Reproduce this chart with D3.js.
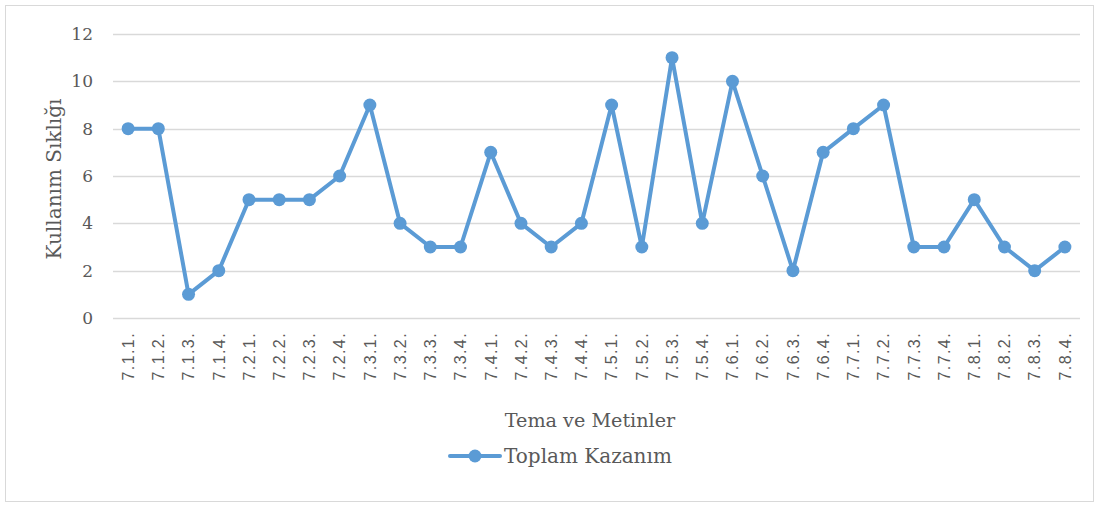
<!DOCTYPE html>
<html><head><meta charset="utf-8">
<script src="https://cdn.jsdelivr.net/npm/d3@7"></script>
<style>
body{margin:0;background:#fff;}
svg{display:block;}
</style></head>
<body><svg id="c" width="1099" height="506"></svg>
<script>
const categories = ["7.1.1.","7.1.2.","7.1.3.","7.1.4.","7.2.1.","7.2.2.","7.2.3.","7.2.4.","7.3.1.","7.3.2.","7.3.3.","7.3.4.","7.4.1.","7.4.2.","7.4.3.","7.4.4.","7.5.1.","7.5.2.","7.5.3.","7.5.4.","7.6.1.","7.6.2.","7.6.3.","7.6.4.","7.7.1.","7.7.2.","7.7.3.","7.7.4.","7.8.1.","7.8.2.","7.8.3.","7.8.4."];
const values = [8,8,1,2,5,5,5,6,9,4,3,3,7,4,3,4,9,3,11,4,10,6,2,7,8,9,3,3,5,3,2,3];
const yTicks = [0,2,4,6,8,10,12];
const seriesName = "Toplam Kazanım";
const xTitle = "Tema ve Metinler";
const yTitle = "Kullanım Sıklığı";

(function(){
const svg = d3.select("#c");
const serif = "'DejaVu Serif', serif";
const sans = "'Liberation Sans', sans-serif";
const color = "#5B9BD5";
const textColor = "#595959";

svg.append("rect").attr("x",5.5).attr("y",5.5).attr("width",1088).attr("height",496)
  .attr("fill","#fff").attr("stroke","#D9D9D9").attr("stroke-width",1);

const pl = 113, pr = 1080, pt = 34, pb = 318;
const x = d3.scaleBand().domain(categories).range([pl,pr]);
const y = d3.scaleLinear().domain([0,12]).range([pb,pt]);

svg.append("g").selectAll("line").data(yTicks).join("line")
  .attr("x1",pl).attr("x2",pr)
  .attr("y1",d=>Math.round(y(d))+0.5).attr("y2",d=>Math.round(y(d))+0.5)
  .attr("stroke","#D9D9D9").attr("stroke-width",1.5);

const yAxis = d3.axisLeft(y).tickValues(yTicks).tickSize(0).tickPadding(0);
const ya = svg.append("g").attr("transform",`translate(93,0)`).call(yAxis);
ya.select(".domain").remove();
ya.selectAll("text").attr("font-family",serif).attr("font-size",17).attr("fill",textColor);

const xAxis = d3.axisBottom(x).tickSize(0).tickPadding(0);
const xa = svg.append("g").attr("transform",`translate(0,${pb})`).call(xAxis);
xa.select(".domain").remove();
xa.selectAll("text")
  .attr("font-family",sans).attr("font-size",16).attr("fill",textColor)
  .attr("letter-spacing","1.4px")
  .attr("transform","rotate(-90)")
  .attr("text-anchor","end")
  .attr("x",-14).attr("y",0).attr("dy","0.36em");

const line = d3.line().x((d,i)=>x(categories[i])+x.bandwidth()/2).y(d=>y(d));
svg.append("path").datum(values).attr("d",line)
  .attr("fill","none").attr("stroke",color).attr("stroke-width",4).attr("stroke-linejoin","round");
svg.append("g").selectAll("circle").data(values).join("circle")
  .attr("cx",(d,i)=>x(categories[i])+x.bandwidth()/2).attr("cy",d=>y(d))
  .attr("r",6.5).attr("fill",color);

svg.append("text").attr("x",590).attr("y",427).attr("text-anchor","middle")
  .attr("font-family",serif).attr("font-size",19.2).attr("fill",textColor).text(xTitle);
svg.append("text").attr("transform",`translate(61,179) rotate(-90)`).attr("text-anchor","middle")
  .attr("font-family",serif).attr("font-size",20).attr("fill",textColor).text(yTitle);

const lg = svg.append("g");
lg.append("line").attr("x1",450).attr("x2",500).attr("y1",456).attr("y2",456)
  .attr("stroke",color).attr("stroke-width",4).attr("stroke-linecap","round");
lg.append("circle").attr("cx",475).attr("cy",456).attr("r",6.5).attr("fill",color);
lg.append("text").attr("x",504).attr("y",463).attr("font-family",serif).attr("font-size",20)
  .attr("fill",textColor).text(seriesName);
})();
</script></body></html>
